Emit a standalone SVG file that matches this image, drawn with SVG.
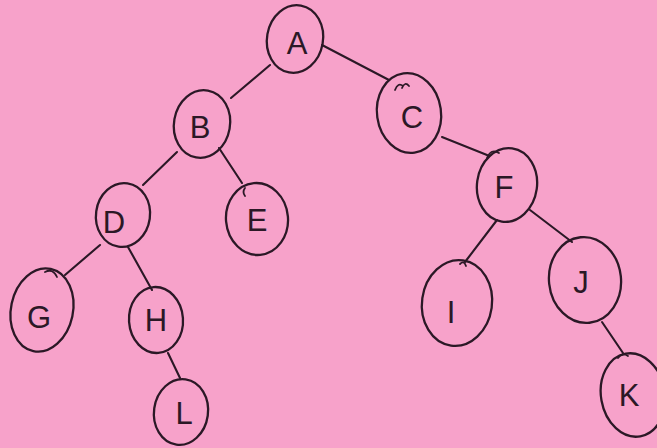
<svg xmlns="http://www.w3.org/2000/svg" width="657" height="448" viewBox="0 0 657 448">
<style>
.bg{fill:#f7a2ca}
.n ellipse{fill:none;stroke:#2b1826;stroke-width:2.3}
.n text{font-family:"Liberation Sans","DejaVu Sans",sans-serif;font-size:31px;fill:#2b1826;text-anchor:middle}
.e line{stroke:#2b1826;stroke-width:2.1;fill:none;stroke-linecap:round}
.m{stroke:#2b1826;stroke-width:1.8;fill:none;stroke-linecap:round}
</style>
<rect class="bg" x="0" y="0" width="657" height="448"/>
<g id="connectors" class="e">
<line x1="270" y1="65" x2="231" y2="98"/>
<line x1="322" y1="45" x2="389" y2="80"/>
<line x1="177" y1="152" x2="143" y2="185"/>
<line x1="219" y1="148" x2="242" y2="183"/>
<line x1="442" y1="137" x2="487" y2="155"/>
<line x1="100" y1="245" x2="65" y2="275"/>
<line x1="128" y1="247" x2="152" y2="290"/>
<line x1="168" y1="353" x2="180" y2="378"/>
<line x1="497" y1="220" x2="465" y2="262"/>
<line x1="530" y1="210" x2="572" y2="242"/>
<line x1="602" y1="322" x2="623" y2="353"/>
</g>
<g id="node-A" class="n"><ellipse cx="295" cy="39" rx="28" ry="34" transform="rotate(10 295 39)"/><text x="297" y="54">A</text></g>
<g id="node-B" class="n"><ellipse cx="202" cy="124" rx="28" ry="34" transform="rotate(10 202 124)"/><text x="200" y="138">B</text></g>
<g id="node-C" class="n"><ellipse cx="409" cy="113" rx="32" ry="40" transform="rotate(-8 409 113)"/><text x="412" y="128">C</text>
<path class="m" d="M395 90 q3 -8 8 -4 M402 88 q3 -7 7 -2"/></g>
<g id="node-D" class="n"><ellipse cx="123" cy="215" rx="27" ry="32" transform="rotate(8 123 215)"/><text x="114" y="233">D</text></g>
<g id="node-E" class="n"><ellipse cx="257" cy="219" rx="31" ry="36" transform="rotate(-5 257 219)"/><text x="257" y="231">E</text>
<path class="m" d="M245 188 q-3 4 0 8"/></g>
<g id="node-F" class="n"><ellipse cx="507" cy="185" rx="30" ry="37" transform="rotate(8 507 185)"/><text x="504" y="198">F</text>
<path class="m" d="M487 158 q4 -10 12 -5"/></g>
<g id="node-G" class="n"><ellipse cx="42" cy="310" rx="31" ry="42" transform="rotate(12 42 310)"/><text x="39" y="328">G</text>
<path class="m" d="M45 272 q8 -4 12 5"/></g>
<g id="node-H" class="n"><ellipse cx="156" cy="320" rx="27" ry="33" transform="rotate(-4 156 320)"/><text x="156" y="331">H</text></g>
<g id="node-I" class="n"><ellipse cx="457" cy="303" rx="35" ry="43" transform="rotate(8 457 303)"/><text x="451" y="323">I</text>
<path class="m" d="M460 264 q4 -4 6 2"/></g>
<g id="node-J" class="n"><ellipse cx="585" cy="280" rx="36" ry="43" transform="rotate(-6 585 280)"/><text x="581" y="293">J</text></g>
<g id="node-K" class="n"><ellipse cx="633" cy="395" rx="32" ry="42" transform="rotate(-10 633 395)"/><text x="629" y="406">K</text>
<path class="m" d="M618 358 q4 -6 10 -2"/></g>
<g id="node-L" class="n"><ellipse cx="181" cy="412" rx="27" ry="33" transform="rotate(8 181 412)"/><text x="184" y="424">L</text></g>
</svg>
